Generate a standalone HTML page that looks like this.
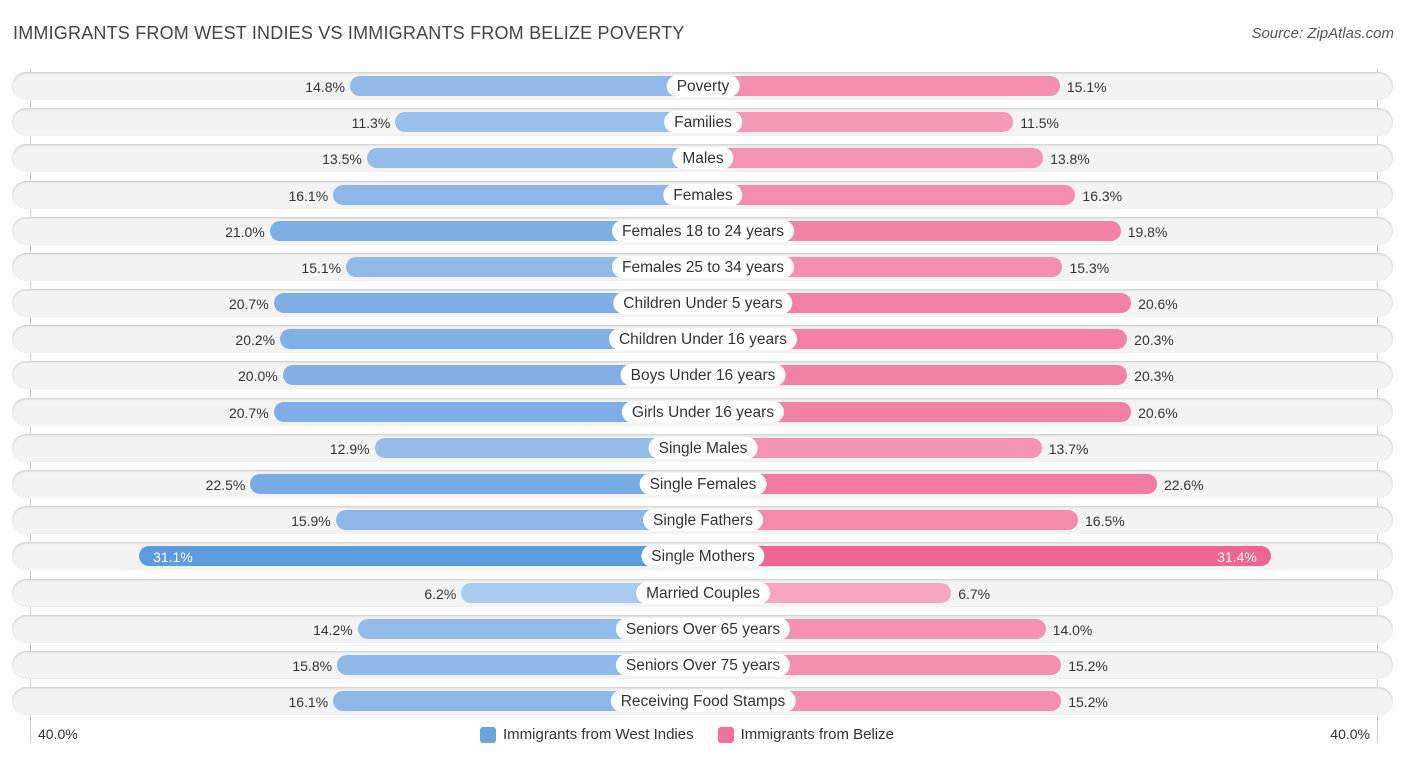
<!DOCTYPE html>
<html><head><meta charset="utf-8">
<style>
body{margin:0;width:1406px;height:758px;background:#fff;font-family:"Liberation Sans",sans-serif;position:relative;overflow:hidden}
.abs{position:absolute}
.title{left:13px;top:23px;font-size:18px;color:#444;letter-spacing:0.2px}
.src{right:12px;top:25px;font-size:15px;color:#555;font-style:italic}
.row{position:absolute;left:12px;width:1381px;height:28px;border-radius:14px;background:#f3f3f3;box-shadow:inset 0 1px 2px rgba(0,0,0,0.18)}
.bar{position:absolute;height:20px;border-radius:10px}
.lab{position:absolute;height:22px;line-height:23px;padding:0 10px;background:#fff;border-radius:11px;font-size:15.5px;color:#333;transform:translateX(-50%);white-space:nowrap}
.val{position:absolute;font-size:14px;color:#333;line-height:22px}
.vline{position:absolute;top:68px;height:675px;width:1px;background:#ccc}
</style></head><body>
<div class="abs title">IMMIGRANTS FROM WEST INDIES VS IMMIGRANTS FROM BELIZE POVERTY</div>
<div class="abs src">Source: ZipAtlas.com</div>
<div class="vline" style="left:30px"></div>
<div class="vline" style="left:1377px"></div>
<div id="chart"></div>
<div class="abs" style="left:38px;top:726px;font-size:14px;color:#333">40.0%</div>
<div class="abs" style="right:36px;top:726px;font-size:14px;color:#333">40.0%</div>
<div class="abs" style="left:480px;top:726px;font-size:15px;color:#333;display:flex;align-items:center">
<span style="display:inline-block;width:16px;height:16px;border-radius:3px;background:#6aa3e0;margin-right:7px"></span><span>Immigrants from West Indies</span>
<span style="display:inline-block;width:16px;height:16px;border-radius:3px;background:#f2729e;margin:0 7px 0 24px"></span><span>Immigrants from Belize</span>
</div>
<script>
const categories=["Poverty","Families","Males","Females","Females 18 to 24 years","Females 25 to 34 years","Children Under 5 years","Children Under 16 years","Boys Under 16 years","Girls Under 16 years","Single Males","Single Females","Single Fathers","Single Mothers","Married Couples","Seniors Over 65 years","Seniors Over 75 years","Receiving Food Stamps"];
const westIndies=[14.8,11.3,13.5,16.1,21.0,15.1,20.7,20.2,20.0,20.7,12.9,22.5,15.9,31.1,6.2,14.2,15.8,16.1];
const belize=[15.1,11.5,13.8,16.3,19.8,15.3,20.6,20.3,20.3,20.6,13.7,22.6,16.5,31.4,6.7,14.0,15.2,15.2];
const CX=703,Y0=86,DY=36.18;
function w(v){return 161.5+12.94*v;}
function mix(a,b,t){return 'rgb('+a.map((x,i)=>Math.round(x+(b[i]-x)*t)).join(',')+')';}
function blue(v){const t=Math.min(1,Math.max(0,(v-6)/25));return mix([172,202,238],[94,155,222],t);}
function pink(v){const t=Math.min(1,Math.max(0,(v-6)/25));return mix([247,168,194],[240,100,145],t);}
const c=document.getElementById('chart');
categories.forEach((cat,i)=>{
  const y=Y0+i*DY;
  const row=document.createElement('div');row.className='row';row.style.top=(y-14)+'px';
  
  
  document.body.insertBefore(row,c);
  const lv=westIndies[i],rv=belize[i];
  const lb=document.createElement('div');lb.className='bar';
  lb.style.left=(CX-w(lv))+'px';lb.style.width=w(lv)+'px';lb.style.top=(y-10)+'px';lb.style.background=blue(lv);
  
  
  c.appendChild(lb);
  const rb=document.createElement('div');rb.className='bar';
  rb.style.left=CX+'px';rb.style.width=w(rv)+'px';rb.style.top=(y-10)+'px';rb.style.background=pink(rv);
  
  
  c.appendChild(rb);
  const lt=document.createElement('div');lt.className='val';lt.textContent=lv.toFixed(1)+'%';lt.style.top=(y-10)+'px';
  if(lv>30){lt.style.left=(CX-w(lv)+14)+'px';lt.style.color='#fff';}else{lt.style.right=(1406-(CX-w(lv))+5)+'px';}
  
  
  c.appendChild(lt);
  const rt=document.createElement('div');rt.className='val';rt.textContent=rv.toFixed(1)+'%';rt.style.top=(y-10)+'px';
  if(rv>30){rt.style.right=(1406-(CX+w(rv))+14)+'px';rt.style.color='#fff';}else{rt.style.left=(CX+w(rv)+7)+'px';}
  
  
  c.appendChild(rt);
  const l=document.createElement('div');l.className='lab';l.textContent=cat;l.style.left=CX+'px';l.style.top=(y-11)+'px';
  
  
  c.appendChild(l);
});
</script>
</body></html>
